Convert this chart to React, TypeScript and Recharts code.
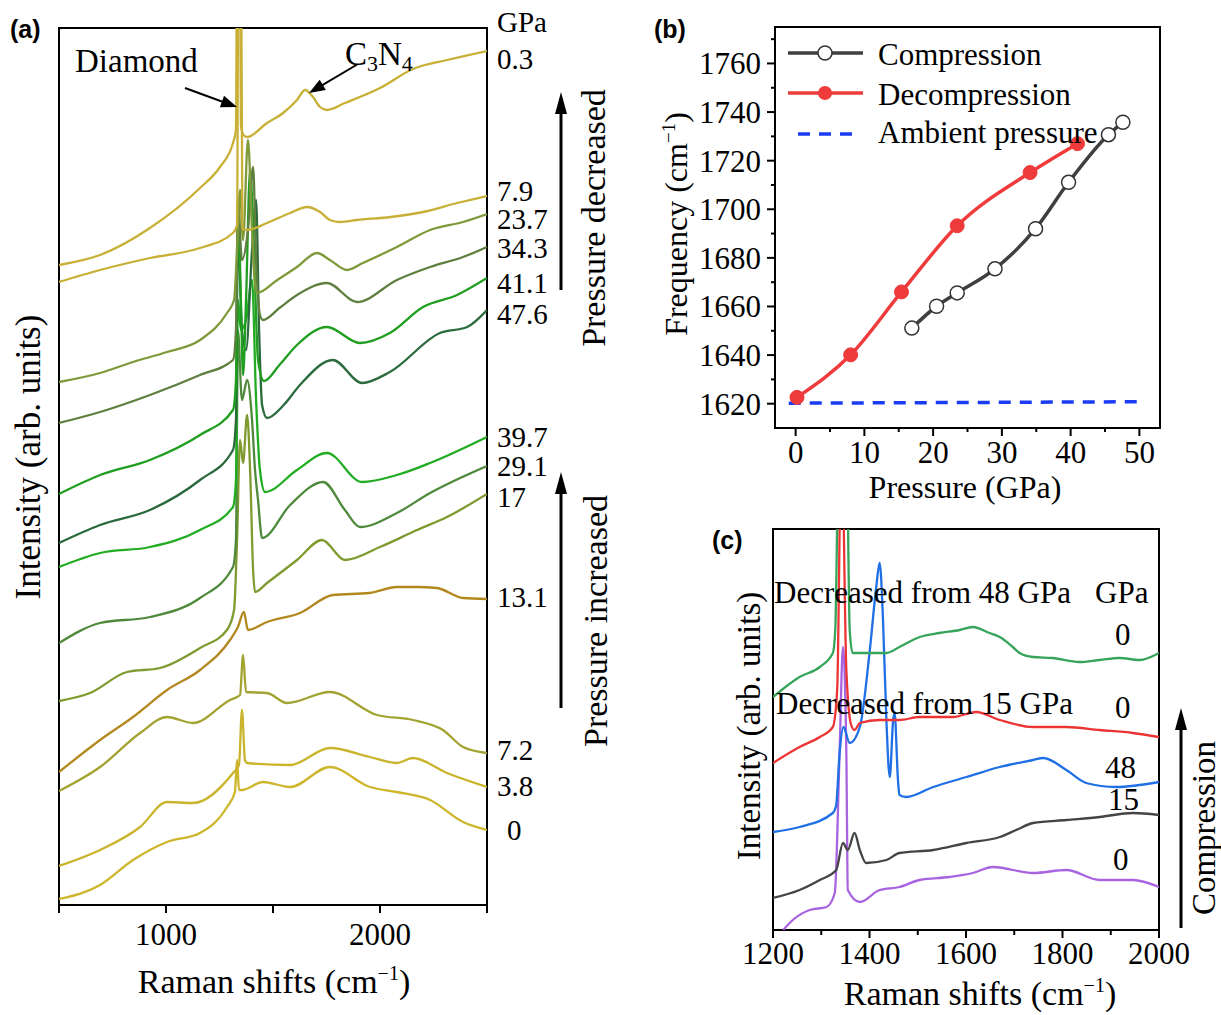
import React from 'react';
import { LineChart, Line, XAxis, YAxis, ReferenceArea } from 'recharts';

type Pt = [number, number];

// ---------- (a) Raman spectra, [shift cm-1, intensity arb.] ----------
const a_03: Pt[] = [[500,640],[692,650],[925,677],[1159,717],[1252,738],[1313,762],[1327,775],[1337,1300],[1350,780],[1362,770],[1379,768],[1472,782],[1547,792],[1612,805],[1650,815],[1687,808],[1720,798],[1752,795],[1836,802],[2000,817],[2154,836],[2313,845],[2500,854]];
const a_79: Pt[] = [[500,623],[692,635],[925,647],[1159,657],[1313,672],[1332,680],[1343,1300],[1357,676],[1379,675],[1472,682],[1580,692],[1659,698],[1720,693],[1766,685],[1813,683],[1893,685],[2050,688],[2201,693],[2360,702],[2500,709]];
const a_237: Pt[] = [[500,523],[692,532],[846,543],[1005,553],[1159,565],[1285,592],[1318,605],[1332,655],[1346,715],[1360,665],[1383,765],[1402,675],[1416,620],[1425,612],[1520,625],[1612,638],[1706,652],[1766,645],[1846,635],[1920,642],[2079,658],[2234,675],[2388,683],[2500,691]];
const a_343: Pt[] = [[500,482],[692,493],[925,510],[1159,530],[1313,545],[1327,575],[1336,705],[1355,645],[1383,675],[1407,738],[1421,645],[1439,590],[1453,585],[1530,597],[1612,610],[1752,622],[1893,603],[2079,625],[2234,638],[2388,648],[2500,658]];
const a_411: Pt[] = [[500,411],[692,430],[925,445],[1159,470],[1313,495],[1327,525],[1336,705],[1350,605],[1360,530],[1374,605],[1393,735],[1411,655],[1430,545],[1458,524],[1530,540],[1612,560],[1752,578],[1906,562],[2046,572],[2201,598],[2360,610],[2500,627]];
const a_476: Pt[] = [[500,362],[692,380],[925,395],[1159,425],[1313,455],[1327,485],[1336,675],[1355,575],[1374,555],[1402,655],[1421,705],[1435,575],[1449,500],[1472,487],[1550,500],[1626,520],[1780,545],[1916,522],[2046,533],[2280,572],[2407,578],[2500,595]];
const a_397: Pt[] = [[500,338],[692,352],[925,358],[1159,375],[1313,398],[1327,425],[1336,605],[1350,575],[1374,585],[1402,625],[1421,505],[1439,435],[1463,413],[1612,435],[1752,452],[1916,423],[2079,430],[2234,442],[2500,468]];
const a_291: Pt[] = [[500,262],[692,282],[925,288],[1159,307],[1313,338],[1327,365],[1336,575],[1355,505],[1379,525],[1402,485],[1416,435],[1430,405],[1449,367],[1580,400],[1734,423],[1836,395],[1906,378],[2079,392],[2234,412],[2500,439]];
const a_17: Pt[] = [[500,204],[645,212],[818,233],[972,237],[1159,257],[1285,275],[1318,295],[1332,365],[1346,465],[1360,442],[1379,490],[1393,435],[1407,335],[1416,313],[1472,322],[1612,345],[1729,365],[1836,345],[2000,358],[2173,375],[2313,388],[2500,411]];
const a_131: Pt[] = [[500,133],[692,165],[846,188],[1005,215],[1159,235],[1299,265],[1336,278],[1364,293],[1383,275],[1472,283],[1626,292],[1780,310],[1950,312],[2079,318],[2173,318],[2266,317],[2388,307],[2500,306]];
const a_72: Pt[] = [[500,114],[692,138],[879,172],[1005,188],[1126,182],[1299,205],[1346,210],[1360,250],[1374,213],[1472,212],[1565,202],[1766,213],[1986,190],[2154,185],[2294,175],[2388,158],[2500,152]];
const a_38: Pt[] = [[500,39],[692,55],[879,78],[1005,103],[1126,102],[1313,132],[1341,140],[1355,195],[1369,145],[1379,142],[1580,140],[1766,157],[1953,148],[2079,142],[2154,147],[2313,132],[2500,118]];
const a_0: Pt[] = [[500,6],[692,20],[846,45],[1005,63],[1159,72],[1285,98],[1322,113],[1332,145],[1341,115],[1355,115],[1453,123],[1580,118],[1766,138],[1953,118],[2079,113],[2234,105],[2388,83],[2500,75]];

const aXTicks = [500, 1000, 1500, 2000, 2500];
// right-hand pressure labels: [text, x, centre y]
const aLabels: [string, number, number][] = [
  ['GPa', 497, 22], ['0.3', 497, 59], ['7.9', 497, 191], ['23.7', 497, 219], ['34.3', 497, 248],
  ['41.1', 497, 283], ['47.6', 497, 314], ['39.7', 497, 437], ['29.1', 497, 466], ['17', 497, 497],
  ['13.1', 497, 597], ['7.2', 497, 750], ['3.8', 497, 786], ['0', 507, 830],
];

// ---------- (b) peak position vs pressure ----------
const compP = [16.9, 20.5, 23.5, 29.0, 34.9, 39.7, 45.5, 47.6];
const compF = [1651.1, 1660.1, 1665.6, 1675.5, 1692.0, 1711.1, 1730.7, 1735.8];
const decP = [0.2, 8.0, 15.4, 23.5, 34.1, 41.0];
const decF = [1622.6, 1640.1, 1666.0, 1693.2, 1715.1, 1727.0];
const ambP = [-1, 50.3];
const ambF = [1620.2, 1620.8];
const bXTicks = [0, 5, 10, 15, 20, 25, 30, 35, 40, 45, 50];
const bYTicks = [1620, 1630, 1640, 1650, 1660, 1670, 1680, 1690, 1700, 1710, 1720, 1730, 1740, 1750, 1760, 1770];

// ---------- (c) spectra after release ----------
const c_green: Pt[] = [[1200,233],[1255,253],[1297,263],[1324,277],[1329,300],[1337,500],[1352,500],[1359,300],[1365,277],[1393,277],[1435,277],[1462,283],[1504,293],[1545,297],[1587,300],[1614,303],[1649,297],[1670,293],[1697,283],[1711,277],[1739,273],[1780,272],[1835,268],[1877,270],[1918,272],[1960,270],[2000,277]];
const c_red: Pt[] = [[1200,167],[1255,183],[1297,193],[1324,203],[1333,240],[1342,500],[1352,260],[1362,205],[1369,200],[1380,207],[1421,210],[1462,210],[1504,213],[1573,213],[1621,218],[1670,210],[1739,203],[1808,203],[1877,200],[1946,197],[2000,193]];
const c_blue: Pt[] = [[1200,98],[1255,103],[1324,117],[1331,125],[1338,177],[1346,203],[1359,187],[1380,203],[1400,277],[1414,343],[1421,367],[1428,310],[1435,210],[1442,153],[1449,210],[1452,217],[1459,150],[1462,135],[1476,133],[1532,143],[1601,153],[1670,163],[1739,170],[1760,172],[1808,160],[1849,147],[1911,143],[2000,148]];
const c_gray: Pt[] = [[1200,32],[1255,40],[1297,50],[1331,60],[1345,87],[1355,80],[1369,97],[1380,80],[1393,67],[1435,70],[1462,77],[1532,80],[1601,87],[1670,93],[1704,100],[1739,107],[1808,110],[1877,113],[1946,117],[2000,115]];
const c_purple: Pt[] = [[1221,0],[1241,10],[1276,20],[1311,23],[1328,37],[1338,177],[1345,283],[1352,177],[1355,40],[1380,28],[1421,40],[1462,43],[1504,50],[1566,53],[1614,57],[1656,63],[1739,57],[1808,60],[1877,50],[1946,50],[2000,43]];
const cXTicks = [1200, 1300, 1400, 1500, 1600, 1700, 1800, 1900, 2000];

const serif = '"Liberation Serif", "Times New Roman", serif';
const sans = '"Liberation Sans", Arial, sans-serif';

const aSeries = [
  { label: '0', pts: a_0, color: '#cdb52c' },
  { label: '3.8', pts: a_38, color: '#cab42c' },
  { label: '7.2', pts: a_72, color: '#a3a332' },
  { label: '13.1', pts: a_131, color: '#b3881f' },
  { label: '17', pts: a_17, color: '#7f9a2f' },
  { label: '29.1', pts: a_291, color: '#4f8a3c' },
  { label: '39.7', pts: a_397, color: '#22ac22' },
  { label: '47.6', pts: a_476, color: '#2a6a3c' },
  { label: '41.1', pts: a_411, color: '#1f9e1f' },
  { label: '34.3', pts: a_343, color: '#5f7f3f' },
  { label: '23.7', pts: a_237, color: '#7f9a3a' },
  { label: '7.9', pts: a_79, color: '#c8b036' },
  { label: '0.3', pts: a_03, color: '#c8b036' },
];

const cSeries = [
  { label: 'purple', pts: c_purple, color: '#a863e0' },
  { label: 'gray', pts: c_gray, color: '#444444' },
  { label: 'blue', pts: c_blue, color: '#1f6fe5' },
  { label: 'red', pts: c_red, color: '#ec3434' },
  { label: 'green', pts: c_green, color: '#36a55a' },
];

const toRows = (pts: Pt[]) => pts.map(([x, y]) => ({ x, y }));
const zipRows = (xs: number[], ys: number[]) => xs.map((x, i) => ({ x, y: ys[i] }));

// ticks drawn by hand so major / minor lengths can differ
function bottomTick(labeled: number[], majorLen: number, minorLen: number, gap: number) {
  return (props: any) => {
    const { x, y, payload } = props;
    const major = labeled.includes(payload.value);
    return (
      <g>
        <line x1={x} y1={y} x2={x} y2={y + (major ? majorLen : minorLen)} stroke="#000" strokeWidth={2} />
        {major && (
          <text x={x} y={y + gap} dy="0.71em" textAnchor="middle" fontSize={31} fontFamily={serif} fill="#000">
            {payload.value}
          </text>
        )}
      </g>
    );
  };
}

function leftTick(labeled: number[], majorLen: number, minorLen: number, gap: number) {
  return (props: any) => {
    const { x, y, payload } = props;
    const major = labeled.includes(payload.value);
    return (
      <g>
        <line x1={x} y1={y} x2={x - (major ? majorLen : minorLen)} y2={y} stroke="#000" strokeWidth={2} />
        {major && (
          <text x={x - gap} y={y} dy="0.35em" textAnchor="end" fontSize={31} fontFamily={serif} fill="#000">
            {payload.value}
          </text>
        )}
      </g>
    );
  };
}

function Arrow({ x1, y1, x2, y2, w = 2, head = 16, half = 6 }: any) {
  const dx = x2 - x1, dy = y2 - y1;
  const L = Math.hypot(dx, dy);
  const ux = dx / L, uy = dy / L;
  const bx = x2 - ux * head, by = y2 - uy * head;
  const px = -uy * half, py = ux * half;
  return (
    <g>
      <line x1={x1} y1={y1} x2={bx + ux * 2} y2={by + uy * 2} stroke="#000" strokeWidth={w} />
      <polygon points={`${x2},${y2} ${bx + px},${by + py} ${bx - px},${by - py}`} fill="#000" />
    </g>
  );
}

const T = (p: any) => <text fontFamily={serif} fill="#000" {...p} />;

export default function App() {
  return (
    <div style={{ position: 'absolute', left: 0, top: 0, width: 1221, height: 1015, background: '#fff' }}>
      {/* (a) */}
      <div style={{ position: 'absolute', left: 0, top: 0 }}>
        <LineChart width={540} height={960} margin={{ top: 28, right: 53, bottom: 25, left: 59 }}>
          <XAxis type="number" dataKey="x" domain={[500, 2500]} allowDataOverflow ticks={aXTicks} interval={0}
            height={30} axisLine={false} tickLine={false} tickSize={0} tickMargin={0}
            tick={bottomTick([1000, 2000], 8, 8, 18)} />
          <YAxis type="number" dataKey="y" domain={[0, 877]} allowDataOverflow hide />
          {aSeries.map((s) => (
            <Line key={s.label} data={toRows(s.pts)} dataKey="y" type="monotone" stroke={s.color}
              strokeWidth={2.3} dot={false} isAnimationActive={false} />
          ))}
          <ReferenceArea x1={500} x2={2500} y1={0} y2={877} fill="none" stroke="#000" strokeWidth={2} ifOverflow="visible" />
        </LineChart>
      </div>

      {/* (b) */}
      <div style={{ position: 'absolute', left: 640, top: 0 }}>
        <LineChart width={560} height={520} margin={{ top: 27, right: 40, bottom: 52, left: 75 }}>
          <XAxis type="number" dataKey="x" domain={[-3, 53]} allowDataOverflow ticks={bXTicks} interval={0}
            height={40} axisLine={false} tickLine={false} tickSize={0} tickMargin={0}
            tick={bottomTick([0, 10, 20, 30, 40, 50], 8, 4, 13)} />
          <YAxis type="number" dataKey="y" domain={[1610, 1775]} allowDataOverflow ticks={bYTicks} interval={0}
            width={60} axisLine={false} tickLine={false} tickSize={0} tickMargin={0}
            tick={leftTick([1620, 1640, 1660, 1680, 1700, 1720, 1740, 1760], 8, 4, 14)} />
          <Line data={zipRows(ambP, ambF)} dataKey="y" type="linear" stroke="#1a3cf5" strokeWidth={3.5}
            strokeDasharray="12 9" dot={false} isAnimationActive={false} />
          <Line data={zipRows(decP, decF)} dataKey="y" type="monotone" stroke="#ef3b3b" strokeWidth={3.5}
            dot={{ r: 7, fill: '#ef3b3b', stroke: '#ef3b3b', strokeWidth: 1 }} isAnimationActive={false} />
          <Line data={zipRows(compP, compF)} dataKey="y" type="monotone" stroke="#3f3f3f" strokeWidth={3.5}
            dot={{ r: 7, fill: '#fff', stroke: '#333', strokeWidth: 1.5 }} isAnimationActive={false} />
          <ReferenceArea x1={-3} x2={53} y1={1610} y2={1775} fill="none" stroke="#000" strokeWidth={2} ifOverflow="visible" />
        </LineChart>
      </div>

      {/* (c) */}
      <div style={{ position: 'absolute', left: 700, top: 500 }}>
        <LineChart width={521} height={480} margin={{ top: 29, right: 62, bottom: 20, left: 73 }}>
          <XAxis type="number" dataKey="x" domain={[1200, 2000]} allowDataOverflow ticks={cXTicks} interval={0}
            height={30} axisLine={false} tickLine={false} tickSize={0} tickMargin={0}
            tick={bottomTick([1200, 1400, 1600, 1800, 2000], 8, 5, 12)} />
          <YAxis type="number" dataKey="y" domain={[0, 401]} allowDataOverflow hide />
          {cSeries.map((s) => (
            <Line key={s.label} data={toRows(s.pts)} dataKey="y" type="monotone" stroke={s.color}
              strokeWidth={2.3} dot={false} isAnimationActive={false} />
          ))}
          <ReferenceArea x1={1200} x2={2000} y1={0} y2={401} fill="none" stroke="#000" strokeWidth={2} ifOverflow="visible" />
        </LineChart>
      </div>

      {/* annotations */}
      <svg width={1221} height={1015} style={{ position: 'absolute', left: 0, top: 0, pointerEvents: 'none' }}>
        <text x={10} y={38} fontFamily={sans} fontWeight="bold" fontSize={25}>(a)</text>
        <text x={654} y={38} fontFamily={sans} fontWeight="bold" fontSize={25}>(b)</text>
        <text x={712} y={549} fontFamily={sans} fontWeight="bold" fontSize={25}>(c)</text>

        {/* (a) */}
        <T x={274} y={993} textAnchor="middle" fontSize={34}>
          Raman shifts (cm<tspan fontSize={20} dy={-13}>−1</tspan><tspan dy={13}>)</tspan>
        </T>
        <T transform="translate(28,457) rotate(-90)" textAnchor="middle" dy="0.35em" fontSize={35}>Intensity (arb. units)</T>
        {aLabels.map(([t, x, y]) => (
          <T key={t + y} x={x} y={y} dy="0.35em" fontSize={29}>{t}</T>
        ))}
        <T x={75} y={72} fontSize={33}>Diamond</T>
        <Arrow x1={185} y1={88} x2={237} y2={107} />
        <T x={345} y={65} fontSize={33}>C<tspan fontSize={22} dy={6}>3</tspan><tspan dy={-6}>N</tspan><tspan fontSize={22} dy={6}>4</tspan></T>
        <Arrow x1={358} y1={64} x2={309} y2={93} />
        <Arrow x1={561} y1={290} x2={561} y2={92} w={3} head={22} half={6} />
        <T transform="translate(593,218) rotate(-90)" textAnchor="middle" dy="0.35em" fontSize={34}>Pressure decreased</T>
        <Arrow x1={561} y1={708} x2={561} y2={472} w={3} head={22} half={6} />
        <T transform="translate(595,621) rotate(-90)" textAnchor="middle" dy="0.35em" fontSize={34}>Pressure increased</T>

        {/* (b) */}
        <T x={965} y={498} textAnchor="middle" fontSize={32}>Pressure (GPa)</T>
        <T transform="translate(676,224) rotate(-90)" textAnchor="middle" dy="0.35em" fontSize={32}>
          Frequency (cm<tspan fontSize={19} dy={-12}>−1</tspan><tspan dy={12}>)</tspan>
        </T>
        <line x1={788} y1={53} x2={863} y2={53} stroke="#3f3f3f" strokeWidth={3.5} />
        <circle cx={825} cy={53} r={7} fill="#fff" stroke="#333" strokeWidth={1.5} />
        <T x={878} y={65} fontSize={31}>Compression</T>
        <line x1={788} y1={93} x2={863} y2={93} stroke="#ef3b3b" strokeWidth={3.5} />
        <circle cx={825} cy={93} r={7} fill="#ef3b3b" />
        <T x={878} y={105} fontSize={31}>Decompression</T>
        <line x1={798} y1={134} x2={856} y2={134} stroke="#1a3cf5" strokeWidth={3.5} strokeDasharray="12 9" />
        <T x={878} y={143} fontSize={31}>Ambient pressure</T>

        {/* (c) */}
        <T x={980} y={1005} textAnchor="middle" fontSize={34}>
          Raman shifts (cm<tspan fontSize={20} dy={-13}>−1</tspan><tspan dy={13}>)</tspan>
        </T>
        <T transform="translate(748,726) rotate(-90)" textAnchor="middle" dy="0.35em" fontSize={33}>Intensity (arb. units)</T>
        <T x={774} y={603} fontSize={31}>Decreased from 48 GPa</T>
        <T x={1095} y={603} fontSize={31}>GPa</T>
        <T x={1115} y={645} fontSize={31}>0</T>
        <T x={776} y={714} fontSize={31}>Decreased from 15 GPa</T>
        <T x={1115} y={718} fontSize={31}>0</T>
        <T x={1105} y={778} fontSize={31}>48</T>
        <T x={1108} y={810} fontSize={31}>15</T>
        <T x={1113} y={870} fontSize={31}>0</T>
        <Arrow x1={1181} y1={928} x2={1181} y2={708} w={3} head={22} half={6} />
        <T transform="translate(1203,828) rotate(-90)" textAnchor="middle" dy="0.35em" fontSize={33}>Compression</T>
      </svg>
    </div>
  );
}
